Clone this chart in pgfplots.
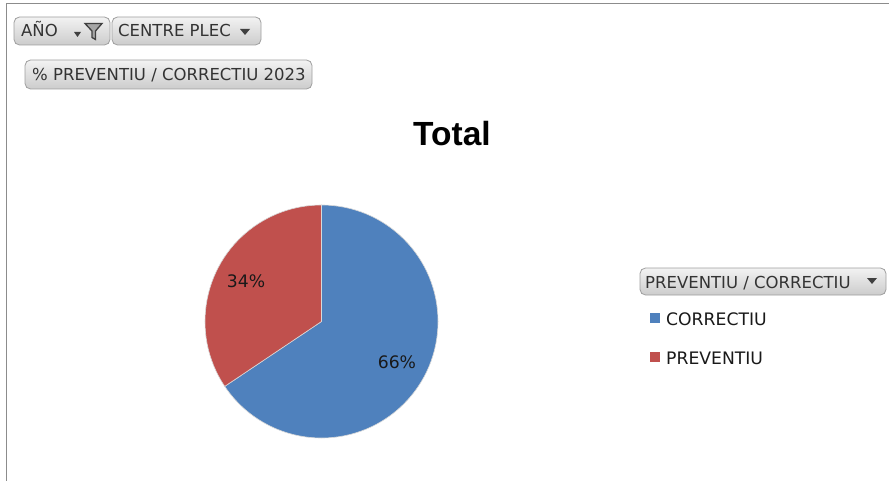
\documentclass[border=0pt]{standalone}
\usepackage{pgfplots}
\pgfplotsset{compat=1.18}
\usepackage{pgfplotstable}
\usepackage{fontspec}
\setmainfont{DejaVu Sans}
\newfontfamily\titlefont{Liberation Sans}

\definecolor{pieblue}{HTML}{4F81BD}
\definecolor{piered}{HTML}{C0504D}
\definecolor{btntext}{HTML}{333333}

\newcommand\btnfont{\fontsize{16.5}{19}\selectfont}
\newcommand\lblfont{\fontsize{17.2}{20}\selectfont}

% pie data: value, label as shown
\pgfplotstableread{
label value pct color
CORRECTIU 65.6 66 pieblue
PREVENTIU 34.4 34 piered
}\piedata

\begin{document}
\begin{tikzpicture}[
  btn/.style={draw=black!38, line width=0.8pt, rounded corners=5.5pt,
              top color=black!5, bottom color=black!20},
  btnlbl/.style={anchor=base west, font=\btnfont, text=btntext, inner sep=0pt},
]
\begin{axis}[
  at={(0,0)}, anchor=south west,
  width=889pt, height=481pt, scale only axis,
  xmin=0, xmax=889, ymin=0, ymax=481,
  y dir=reverse,
  hide axis, clip=false,
]
% frame of the chart area
\draw[black!45, line width=1.5pt] (axis cs:6.5,481) -- (axis cs:6.5,3.5) -- (axis cs:889,3.5);

% field buttons
\draw[btn] (axis cs:14,17) rectangle (axis cs:110,45);
\node[btnlbl] at (axis cs:21,37) {AÑO};
\fill[black!75] (axis cs:74,32) -- (axis cs:81,32) -- (axis cs:77.5,37) -- cycle;
\draw[black!75, line width=1.3pt, fill=black!35] (axis cs:85,23.5) -- (axis cs:102,23.5) -- (axis cs:95.5,31)
  -- (axis cs:95.5,39.5) -- (axis cs:92,37.5) -- (axis cs:92,31) -- cycle;

\draw[btn] (axis cs:112,17) rectangle (axis cs:261,45);
\node[btnlbl] at (axis cs:118,37) {CENTRE PLEC};
\fill[black!75] (axis cs:240,29) -- (axis cs:250,29) -- (axis cs:245,35) -- cycle;

\draw[btn] (axis cs:25,60) rectangle (axis cs:312,89);
\node[btnlbl] at (axis cs:32,80.5) {\% PREVENTIU / CORRECTIU 2023};

% title
\node[anchor=base, font=\titlefont\bfseries\fontsize{33.5}{36}\selectfont, inner sep=0pt]
  at (axis cs:452,146) {Total};

% pie slices, clockwise from 12 o'clock
\gdef\startang{90}
\pgfplotsforeachungrouped \i in {0,1}{%
  \pgfplotstablegetelem{\i}{value}\of\piedata \let\v\pgfplotsretval
  \pgfplotstablegetelem{\i}{pct}\of\piedata \let\p\pgfplotsretval
  \pgfplotstablegetelem{\i}{color}\of\piedata \let\c\pgfplotsretval
  \pgfmathsetmacro\delta{-3.6*\v}
  \pgfmathsetmacro\mid{\startang+\delta/2}
  \edef\temp{%
    \noexpand\fill[\c, draw=white!85!black, line width=0.6pt] (axis cs:321.5,321.5)
      -- ++(\startang:116.5pt) arc[start angle=\startang, delta angle=\delta, radius=116.5pt] -- cycle;
    \noexpand\path (axis cs:321.5,321.5) ++(\mid:85.5pt)
      node[font=\noexpand\lblfont, text=black!90] {\p\noexpand\%};
  }\temp
  \pgfmathsetmacro\startang{\startang+\delta}
  \xdef\startang{\startang}
}

% legend
\draw[btn] (axis cs:640,268) rectangle (axis cs:886,295);
\node[btnlbl] at (axis cs:645,288) {PREVENTIU / CORRECTIU};
\fill[black!75] (axis cs:867,278) -- (axis cs:877,278) -- (axis cs:872,284) -- cycle;

\fill[pieblue] (axis cs:650,313) rectangle (axis cs:660,323);
\node[anchor=base west, font=\lblfont, text=black!90, inner sep=0pt] at (axis cs:666,325) {CORRECTIU};
\fill[piered] (axis cs:650,352) rectangle (axis cs:660,362);
\node[anchor=base west, font=\lblfont, text=black!90, inner sep=0pt] at (axis cs:666,364) {PREVENTIU};
\end{axis}
\pgfresetboundingbox
\path (0,0) rectangle (889pt,481pt);
\end{tikzpicture}
\end{document}
